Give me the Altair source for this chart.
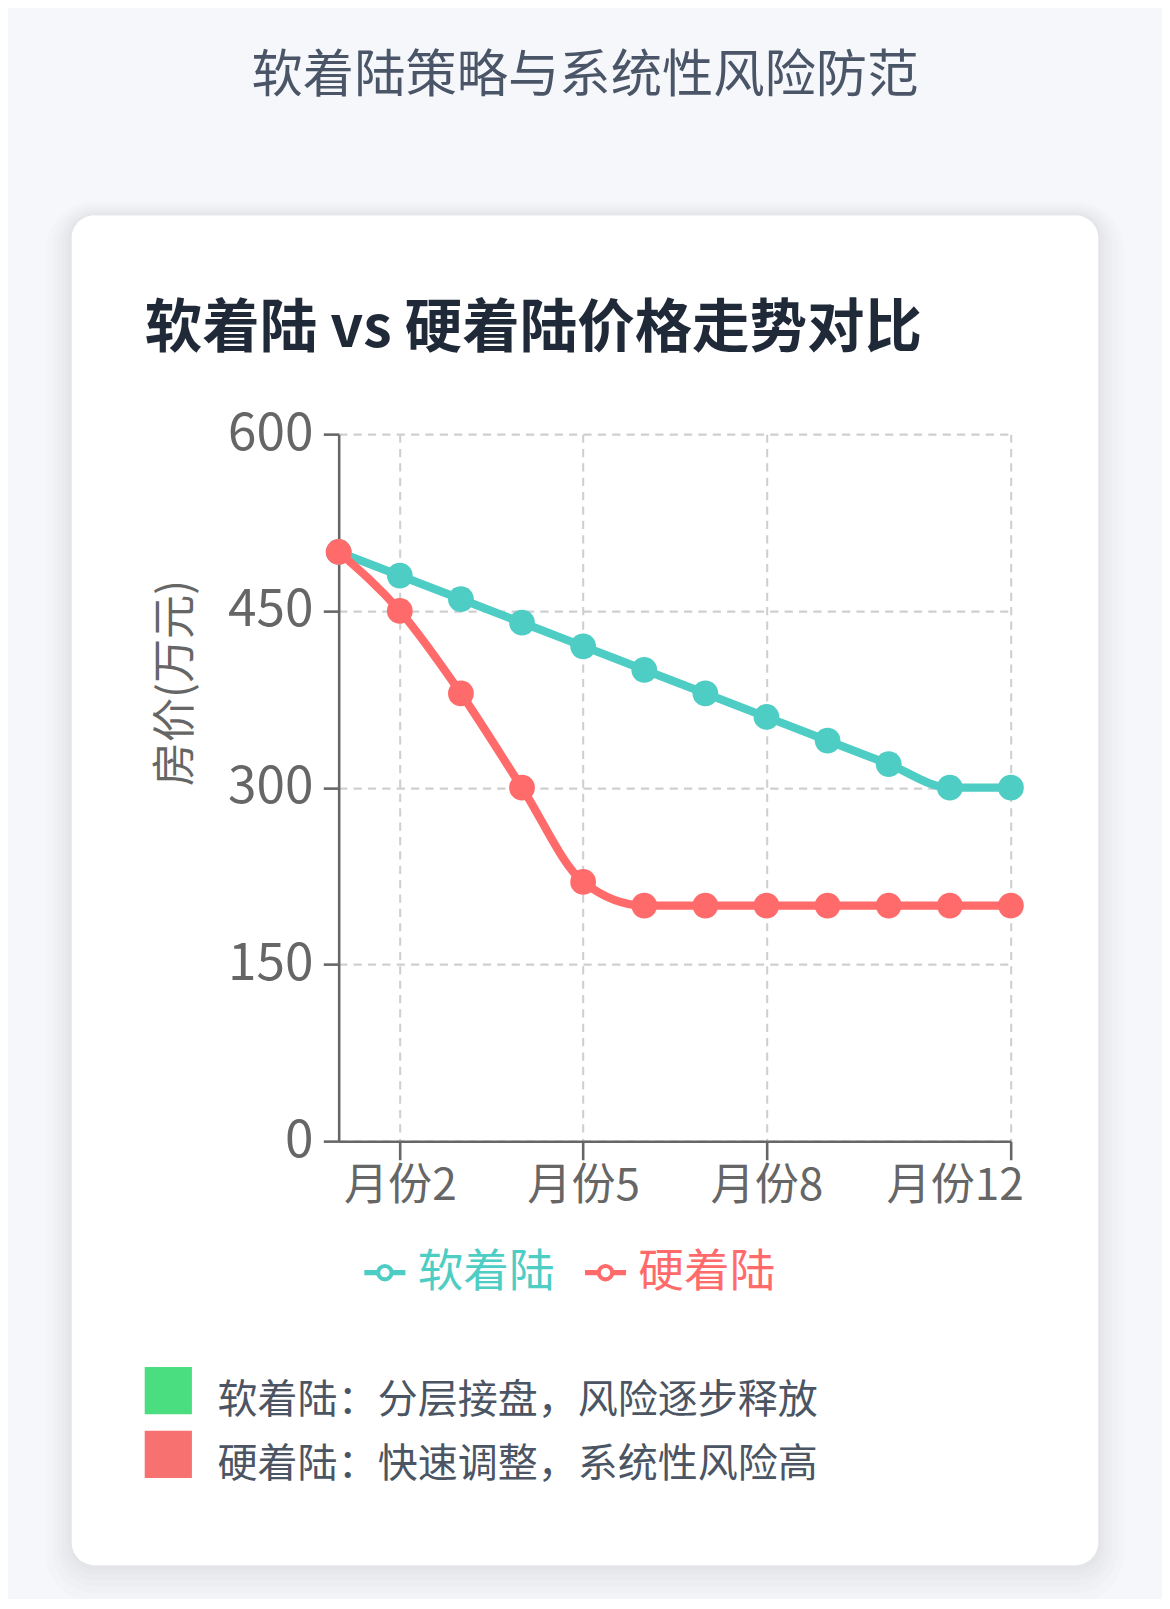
import altair as alt
import pandas as pd

# ---- data ----
months = ["月份1", "月份2", "月份3", "月份4", "月份5", "月份6",
          "月份7", "月份8", "月份9", "月份10", "月份11", "月份12"]
soft_landing = [500, 480, 460, 440, 420, 400, 380, 360, 340, 320, 300, 300]
hard_landing = [500, 450, 380, 300, 220, 200, 200, 200, 200, 200, 200, 200]
series_names = ["软着陆", "硬着陆"]
series_colors = ["#4ECDC4", "#FF6B6B"]
x_tick_labels = ["月份2", "月份5", "月份8", "月份12"]
y_ticks = [0, 150, 300, 450, 600]

page_title = "软着陆策略与系统性风险防范"
card_title = "软着陆 vs 硬着陆价格走势对比"
y_title = "房价(万元)"
notes = ["软着陆：分层接盘，风险逐步释放", "硬着陆：快速调整，系统性风险高"]
note_colors = ["#4ade80", "#f87171"]

FONT = "Noto Sans CJK SC"

df = pd.DataFrame({
    "month": months * 2,
    "value": soft_landing + hard_landing,
    "series": [series_names[0]] * len(months) + [series_names[1]] * len(months),
})

# layout constants were measured at 1140px display width; S converts to page px
S = 1170 / 1140.0
W, H = 655 * S, 689 * S
PL = 330 * S - 8
PT = 423 * S - 8
TOTAL_W, TOTAL_H = 1154, 1591
PAD = {"left": PL, "top": PT, "right": TOTAL_W - PL - W,
       "bottom": TOTAL_H - PT - H}

one = alt.Data(values=[{"k": 0}])


def rr(x0, y0, x1, y1, r, ccw=False):
    if not ccw:
        return (f"M{x0+r},{y0}H{x1-r}A{r},{r} 0 0 1 {x1},{y0+r}V{y1-r}"
                f"A{r},{r} 0 0 1 {x1-r},{y1}H{x0+r}A{r},{r} 0 0 1 {x0},{y1-r}"
                f"V{y0+r}A{r},{r} 0 0 1 {x0+r},{y0}Z")
    return (f"M{x0+r},{y0}A{r},{r} 0 0 0 {x0},{y0+r}V{y1-r}"
            f"A{r},{r} 0 0 0 {x0+r},{y1}H{x1-r}A{r},{r} 0 0 0 {x1},{y1-r}"
            f"V{y0+r}A{r},{r} 0 0 0 {x1-r},{y0}Z")


# card geometry relative to plot origin (display units; path scaled by S)
CX0, CY0, CX1, CY1, CR = -260, -213, 740, 1102, 22
inner = rr(CX0, CY0, CX1, CY1, CR, ccw=True)
fx0, fy0 = -PL / S - 2, -PT / S - 2
fx1, fy1 = (TOTAL_W - PL) / S + 2, (TOTAL_H - PT) / S + 2
frame_path = (f"M{fx0:.1f},{fy0:.1f}H{fx1:.1f}V{fy1:.1f}H{fx0:.1f}Z" + inner)
SHAPE_SIZE = 4 * S * S

layers = []
layers.append(
    alt.Chart(one).mark_point(shape=frame_path, size=SHAPE_SIZE, filled=True,
                              fill="#f5f7fa", strokeWidth=0, opacity=1)
    .encode(x=alt.value(0), y=alt.value(0))
)
for e in [3, 6, 10, 14, 19, 25]:
    dy = e * 0.45
    outer = rr(CX0 - e, CY0 - e + dy, CX1 + e, CY1 + e + dy, CR + e)
    layers.append(
        alt.Chart(one).mark_point(shape=outer + inner, size=SHAPE_SIZE,
                                  filled=True, fill="#000000", strokeWidth=0,
                                  opacity=0.013)
        .encode(x=alt.value(0), y=alt.value(0))
    )

last_label = x_tick_labels[-1]
color_scale = alt.Scale(domain=series_names, range=series_colors)
x_enc = alt.X("month:N", sort=months,
              scale=alt.Scale(type="point", padding=0),
              axis=alt.Axis(
                  values=x_tick_labels, title=None, labelAngle=0,
                  tickSize=18 * S, labelPadding=5 * S, grid=True,
                  labelFontSize=43 * S,
                  labelAlign=alt.ConditionalAxisLabelAlign(
                      condition={"test": f"datum.label == '{last_label}'",
                                 "value": "right"},
                      value="center"),
                  labelOffset=alt.ConditionalAxisNumber(
                      condition={"test": f"datum.label == '{last_label}'",
                                 "value": 12 * S},
                      value=0),
              ))
y_enc = alt.Y("value:Q", scale=alt.Scale(domain=[0, 600], nice=False),
              axis=alt.Axis(values=y_ticks, title=y_title, tickSize=15 * S,
                            labelPadding=10 * S, grid=True,
                            labelFontSize=50 * S,
                            titleX=-158 * S, titleY=242 * S,
                            titleBaseline="middle", titleFontWeight="normal",
                            titleFontSize=43 * S, titleColor="#666666"))

for name in series_names:
    b = alt.Chart(df).transform_filter(alt.datum.series == name)
    layers.append(
        b.mark_line(interpolate="monotone", strokeWidth=8 * S)
        .encode(x=x_enc, y=y_enc,
                color=alt.Color("series:N", scale=color_scale, legend=None))
    )
    layers.append(
        b.mark_circle(size=630 * S * S, opacity=1)
        .encode(x=x_enc, y=y_enc,
                color=alt.Color("series:N", scale=color_scale, legend=None))
    )


def text(t, x, y, size, color, align="left", weight="normal"):
    return alt.Chart(one).mark_text(
        text=t, align=align, baseline="middle", font=FONT, fontSize=size * S,
        color=color, fontWeight=weight
    ).encode(x=alt.value(x * S), y=alt.value(y * S))


layers.append(text(page_title, 240, -348, 50, "#4a5568", align="center"))
layers.append(text(card_title, -189, -101, 56, "#1f2937", weight="bold"))

# series legend row
leg_y = 817
for i, (name, col) in enumerate(zip(series_names, series_colors)):
    x0 = 25 + i * 215
    layers.append(
        alt.Chart(one).mark_rule(strokeWidth=5 * S, color=col)
        .encode(x=alt.value(x0 * S), x2=alt.value((x0 + 40) * S),
                y=alt.value(leg_y * S))
    )
    layers.append(
        alt.Chart(one).mark_point(shape="circle", size=170 * S * S, filled=True,
                                  fill="white", stroke=col, strokeWidth=4 * S,
                                  opacity=1)
        .encode(x=alt.value((x0 + 20) * S), y=alt.value(leg_y * S))
    )
    layers.append(text(name, x0 + 52, leg_y, 44.5, col))

# explanation notes with colour squares
for i, (note, col) in enumerate(zip(notes, note_colors)):
    y0 = 909 + i * 62
    layers.append(
        alt.Chart(one).mark_rect(color=col)
        .encode(x=alt.value(-189 * S), x2=alt.value(-143 * S),
                y=alt.value(y0 * S), y2=alt.value((y0 + 46) * S))
    )
    layers.append(text(note, -118, y0 + 33, 39, "#4b5563"))

chart = alt.layer(*layers).properties(
    width=W, height=H,
    autosize=alt.AutoSizeParams(type="none"),
    padding=PAD,
    background="#ffffff",
).configure_view(strokeWidth=0).configure_axis(
    labelFont=FONT, titleFont=FONT, labelFontSize=42 * S, labelColor="#666666",
    domainColor="#666666", domainWidth=2.5 * S, tickColor="#666666",
    tickWidth=2.5 * S, gridColor="#cfcfcf", gridDash=[8 * S, 6 * S],
    gridWidth=2 * S,
)

chart.save("out.html", embed_options={"renderer": "svg", "actions": False})
